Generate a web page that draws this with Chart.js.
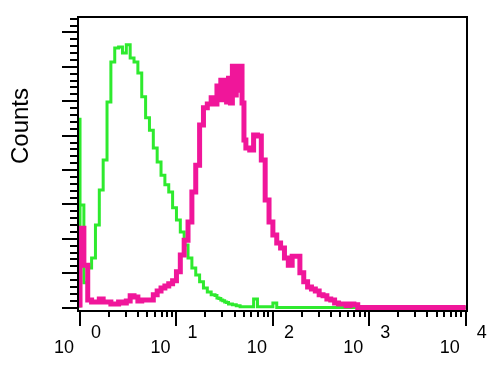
<!DOCTYPE html>
<html>
<head>
<meta charset="utf-8">
<script src="https://cdn.jsdelivr.net/npm/chart.js@4.4.1/dist/chart.umd.min.js"></script>
<style>
  html, body { margin: 0; padding: 0; background: #fff; }
  #wrap { width: 495px; height: 376px; }
</style>
</head>
<body>
<div id="wrap"><canvas id="histChart"></canvas></div>
<script>
// Bin start positions, in decades (0 = 10^0 ... 4 = 10^4)
const binStarts = [
  0.00, 0.04, 0.08, 0.12, 0.16, 0.20, 0.24, 0.28, 0.32, 0.36,
  0.40, 0.44, 0.48, 0.52, 0.56, 0.60, 0.64, 0.68, 0.72, 0.76,
  0.80, 0.84, 0.88, 0.92, 0.96, 1.00, 1.04, 1.08, 1.12, 1.16,
  1.20, 1.24, 1.28, 1.32, 1.36,
  1.40, 1.42, 1.44, 1.46, 1.48, 1.50, 1.52, 1.54, 1.56, 1.58, 1.60, 1.62, 1.64, 1.66, 1.68, 1.70,
  1.72, 1.76, 1.80, 1.84, 1.88, 1.92, 1.96, 2.00, 2.04, 2.08,
  2.12, 2.16, 2.20, 2.24, 2.28, 2.32, 2.36, 2.40, 2.44, 2.48,
  2.52, 2.56, 2.60, 2.64, 2.68, 2.72, 2.76, 2.80, 2.84, 2.88,
  2.92, 2.96, 3.00, 3.04, 3.08, 3.12, 3.16, 3.20, 3.24, 3.28,
  3.32, 3.36, 3.40, 3.44, 3.48, 3.52, 3.56, 3.60, 3.64, 3.68,
  3.72, 3.76, 3.80, 3.84, 3.88, 3.92, 3.96
];
const lastEdge = 4.00;

// Stained sample (magenta)
const magentaCounts = [
  23.1, 23.1, 12.3, 2.2, 1.6, 1.6, 2.5, 1.6, 1.6, 1.0,
  1.0, 1.6, 1.3, 1.9, 3.4, 3.1, 1.9, 2.2, 2.2, 2.2,
  3.7, 4.8, 5.7, 6.3, 6.9, 7.8, 10.4, 15.3, 19.6, 24.9,
  33.6, 41.4, 53.1, 58.1, 59.2,
  61.0, 59.2, 64.4, 60.4, 66.1, 60.4, 66.1, 59.8, 66.7, 59.5, 70.2, 61.8, 70.2, 63.2, 70.2, 59.5,
  48.7, 46.4, 45.8, 50.2, 49.9, 42.9, 31.3, 24.9, 21.1, 18.8,
  17.3, 14.4, 12.3, 14.9, 14.9, 10.1, 7.5, 6.0, 5.4, 4.8,
  3.7, 3.4, 2.5, 2.2, 1.3, 1.0, 1.0, 0.5, 1.0, 0.8,
  0, 0, 0, 0, 0, 0, 0, 0, 0, 0,
  0, 0, 0, 0, 0, 0, 0, 0, 0, 0,
  0, 0, 0, 0, 0, 0, 0
];

// Control (green)
const greenCounts = [
  55.2, 29.8, 7.2, 11.5, 14.4, 24.0, 34.2, 42.9, 59.8, 71.4,
  75.5, 75.8, 74.0, 76.4, 72.6, 71.4, 68.2, 61.3, 55.2, 51.6,
  46.4, 42.3, 38.5, 35.7, 33.6, 29.0, 25.5, 22.0, 18.2, 14.4,
  11.5, 9.5, 7.5, 5.7, 4.5,
  3.7, 3.5, 2.8, 2.6, 2.2, 2.0, 1.6, 1.5, 1.0, 1.0, 0.8, 0.8, 0.5, 0.5, 0.2, 0.2,
  0.2, 0.2, 0.2, 2.5, 0.2, 0.2, 0.2, 0.2, 1.3, 0,
  0, 0, 0, 0, 0, 0, 0, 0, 0, 0,
  0, 0, 0, 0, 0, 0, 0, 0, 0, 0,
  0, 0, 0, 0, 0, 0, 0, 0, 0, 0,
  0, 0, 0, 0, 0, 0, 0, 0, 0, 0,
  0, 0, 0, 0, 0, 0, 0
];

const decadeExponents = ["0", "1", "2", "3", "4"];
const yTitle = "Counts";

// Turn counts into step points (left edge rises from the baseline)
function toPoints(counts) {
  const pts = [{ x: binStarts[0], y: 0 }];
  counts.forEach(function (c, i) {
    pts.push({ x: binStarts[i], y: c });
  });
  pts.push({ x: lastEdge, y: counts[counts.length - 1] });
  return pts;
}

/**
 * Frame, log ticks and labels in the old cytometry style
 */
const cytometryAxes = {
  id: "cytometryAxes",
  afterDatasetsDraw(chart) {
    const ctx = chart.ctx;
    const area = chart.chartArea;
    const xs = chart.scales.x;
    const ys = chart.scales.y;

    ctx.save();
    ctx.strokeStyle = "#000";
    ctx.lineWidth = 2;
    ctx.strokeRect(area.left, area.top, area.right - area.left, area.bottom - area.top);

    // x axis: decades with 2..9 minor ticks
    ctx.beginPath();
    for (let k = 0; k <= 4; k++) {
      for (let m = 1; m <= 9; m++) {
        if (k === 4 && m > 1) break;
        const px = Math.round(xs.getPixelForValue(k + Math.log10(m)));
        const len = m === 1 ? 15 : 6;
        ctx.moveTo(px, area.bottom);
        ctx.lineTo(px, area.bottom + len);
      }
    }
    // y axis: minor every 2, major every 10
    for (let c = 0; c <= 84; c += 2) {
      const py = Math.round(ys.getPixelForValue(c));
      const len = c % 10 === 0 ? 16 : 8;
      ctx.moveTo(area.left, py);
      ctx.lineTo(area.left - len, py);
    }
    ctx.stroke();

    // decade labels: "10" with the exponent up and to the right
    ctx.fillStyle = "#000";
    ctx.font = "18px 'Liberation Sans', Arial, sans-serif";
    ctx.textAlign = "center";
    ctx.textBaseline = "alphabetic";
    decadeExponents.forEach(function (exp, k) {
      const px = xs.getPixelForValue(k);
      ctx.fillText("10", px - 16, area.bottom + 42);
      ctx.fillText(exp, px + 16, area.bottom + 27);
    });

    // y title
    ctx.font = "24px 'Liberation Sans', Arial, sans-serif";
    ctx.textBaseline = "middle";
    ctx.translate(area.left - 57, area.top + 109);
    ctx.rotate(-Math.PI / 2);
    ctx.fillText(yTitle, 0, 0);
    ctx.restore();
  }
};

document.addEventListener("DOMContentLoaded", function () {
  const ctx = document.getElementById("histChart").getContext("2d");

  new Chart(ctx, {
    type: "line",
    data: {
      datasets: [
        {
          label: "Stained",
          data: toPoints(magentaCounts),
          borderColor: "#f0169a",
          borderWidth: 5,
          stepped: "after",
          fill: false,
          pointRadius: 0,
          borderJoinStyle: "miter",
        },
        {
          label: "Control",
          data: toPoints(greenCounts),
          borderColor: "#2eea2e",
          borderWidth: 3,
          stepped: "after",
          fill: false,
          pointRadius: 0,
          borderJoinStyle: "miter",
        },
      ],
    },
    options: {
      responsive: true,
      maintainAspectRatio: false,
      animation: false,
      layout: { padding: { left: 78, top: 17, right: 28, bottom: 65 } },
      scales: {
        x: { type: "linear", min: -0.021, max: 4.013, display: false },
        y: { type: "linear", min: -1, max: 84.5, display: false },
      },
      plugins: {
        legend: { display: false },
        tooltip: { enabled: false },
      },
    },
    plugins: [cytometryAxes],
  });
});
</script>
</body>
</html>
